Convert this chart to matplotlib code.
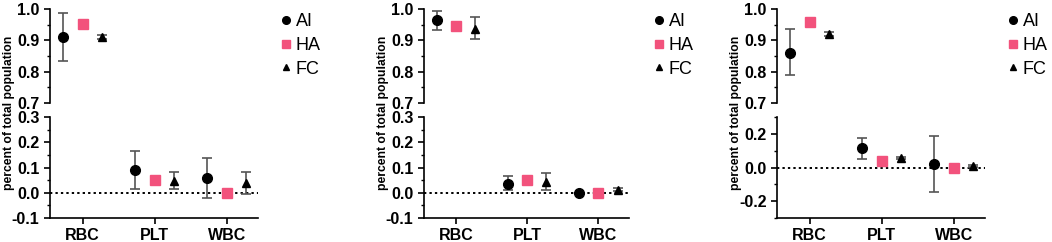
import matplotlib
matplotlib.use("Agg")
import matplotlib.pyplot as plt
from matplotlib.ticker import MultipleLocator, FormatStrFormatter
from matplotlib.lines import Line2D

plt.rcParams['font.family'] = ['Liberation Sans', 'DejaVu Sans']
plt.rcParams['axes.unicode_minus'] = False

groups = ["RBC", "PLT", "WBC"]
series = ["AI", "HA", "FC"]

# panel 1
ai_mean_1 = [0.911, 0.091, 0.059]
ai_lo_1 = [0.835, 0.016, -0.020]
ai_hi_1 = [0.986, 0.166, 0.139]
ha_mean_1 = [0.951, 0.050, 0.000]
fc_mean_1 = [0.911, 0.045, 0.038]
fc_lo_1 = [0.904, 0.013, -0.004]
fc_hi_1 = [0.917, 0.084, 0.082]

# panel 2
ai_mean_2 = [0.965, 0.036, 0.000]
ai_lo_2 = [0.933, 0.010, 0.000]
ai_hi_2 = [0.994, 0.065, 0.000]
ha_mean_2 = [0.947, 0.052, 0.000]
fc_mean_2 = [0.937, 0.044, 0.012]
fc_lo_2 = [0.904, 0.010, 0.007]
fc_hi_2 = [0.973, 0.080, 0.017]

# panel 3
ai_mean_3 = [0.861, 0.114, 0.018]
ai_lo_3 = [0.789, 0.053, -0.147]
ai_hi_3 = [0.935, 0.178, 0.188]
ha_mean_3 = [0.957, 0.041, 0.000]
fc_mean_3 = [0.920, 0.059, 0.008]
fc_lo_3 = [0.913, 0.053, 0.002]
fc_hi_3 = [0.927, 0.065, 0.014]

panels = [
    (ai_mean_1, ai_lo_1, ai_hi_1, ha_mean_1, fc_mean_1, fc_lo_1, fc_hi_1),
    (ai_mean_2, ai_lo_2, ai_hi_2, ha_mean_2, fc_mean_2, fc_lo_2, fc_hi_2),
    (ai_mean_3, ai_lo_3, ai_hi_3, ha_mean_3, fc_mean_3, fc_lo_3, fc_hi_3),
]
bottom_lims = [(-0.1, 0.3, 0.1, 0.05), (-0.1, 0.3, 0.1, 0.05), (-0.3, 0.3, 0.2, 0.1)]

W, H = 1052, 242
pink = '#f2527c'
errc = '#555555'
spine_x = [50, 424, 777]
right_x = [258, 629, 985]
legend_x = [282, 655, 1009]
ylabel_x = [9, 383, 736]

fig = plt.figure(figsize=(W / 100, H / 100), dpi=100)


def frac(x0, y0, x1, y1):
    return [x0 / W, 1 - y1 / H, (x1 - x0) / W, (y1 - y0) / H]


def style(ax):
    for s in ['top', 'right']:
        ax.spines[s].set_visible(False)
    for s in ['left', 'bottom']:
        ax.spines[s].set_linewidth(1.2)
    ax.tick_params(which='major', length=4, width=1.2, labelsize=11.5)
    ax.tick_params(which='minor', length=2.2, width=1.0)
    for lab in ax.get_yticklabels() + ax.get_xticklabels():
        lab.set_fontweight('bold')


off = 0.27
xs = list(range(len(groups)))
for i, (ai_m, ai_lo, ai_hi, ha_m, fc_m, fc_lo, fc_hi) in enumerate(panels):
    top = fig.add_axes(frac(spine_x[i], 9, right_x[i], 103))
    bot = fig.add_axes(frac(spine_x[i], 117, right_x[i], 218))
    for ax in (top, bot):
        ai_err = [[m - l for m, l in zip(ai_m, ai_lo)], [h - m for m, h in zip(ai_m, ai_hi)]]
        fc_err = [[m - l for m, l in zip(fc_m, fc_lo)], [h - m for m, h in zip(fc_m, fc_hi)]]
        ax.errorbar([x - off for x in xs], ai_m, yerr=ai_err, fmt='o', color='black',
                    ecolor=errc, elinewidth=1.2, capsize=3.5, capthick=1.2, markersize=7, zorder=3)
        ax.plot(xs, ha_m, 's', color=pink, markersize=6.5, zorder=3)
        ax.errorbar([x + off for x in xs], fc_m, yerr=fc_err, fmt='^', color='black',
                    ecolor=errc, elinewidth=1.2, capsize=3.5, capthick=1.2, markersize=6, zorder=3)
        ax.set_xlim(-0.45, 2.43)

    top.set_ylim(0.7, 1.0)
    top.yaxis.set_major_locator(MultipleLocator(0.1))
    top.yaxis.set_minor_locator(MultipleLocator(0.05))
    top.yaxis.set_major_formatter(FormatStrFormatter('%.1f'))
    top.spines['bottom'].set_visible(False)
    top.set_xticks([])
    style(top)

    lo, hi, maj, mnr = bottom_lims[i]
    bot.set_ylim(lo, hi)
    bot.yaxis.set_major_locator(MultipleLocator(maj))
    bot.yaxis.set_minor_locator(MultipleLocator(mnr))
    bot.yaxis.set_major_formatter(FormatStrFormatter('%.1f'))
    bot.set_xticks(xs)
    bot.set_xticklabels(groups)
    bot.axhline(0, color='black', linestyle=(0, (1.2, 1.6)), linewidth=1.4, zorder=1)
    style(bot)

    fig.text(ylabel_x[i] / W, 1 - 113 / H, 'percent of total population', rotation=90,
             ha='center', va='center', fontsize=8.7, fontweight='bold')

    handles = [
        Line2D([], [], marker='o', color='black', linestyle='none', markersize=5.5),
        Line2D([], [], marker='s', color=pink, linestyle='none', markersize=5.5),
        Line2D([], [], marker='^', color='black', linestyle='none', markersize=5),
    ]
    top.legend(handles, series, loc='upper left', bbox_to_anchor=(legend_x[i] / W, 1 - 13 / H),
               bbox_transform=fig.transFigure, frameon=False, fontsize=13,
               handlelength=0.4, handletextpad=0.35, labelspacing=0.38, borderaxespad=0,
               borderpad=0)

fig.savefig('out.png', dpi=100)
